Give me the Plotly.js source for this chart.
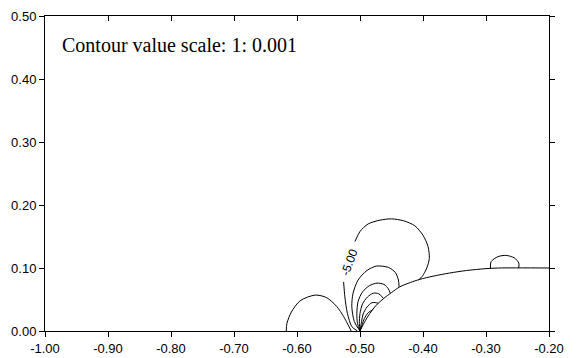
<!DOCTYPE html>
<html>
<head>
<meta charset="utf-8">
<script src="https://cdn.plot.ly/plotly-3.0.1.min.js"></script>
<style>html,body{margin:0;padding:0;background:#fff;}#chart{width:577px;height:358px;}</style>
</head>
<body>
<div id="chart"></div>
<script>
// Tick values
const xTickVals = [-1.0, -0.9, -0.8, -0.7, -0.6, -0.5, -0.4, -0.3, -0.2];
const xTickText = ['-1.00', '-0.90', '-0.80', '-0.70', '-0.60', '-0.50', '-0.40', '-0.30', '-0.20'];
const yTickVals = [0.0, 0.1, 0.2, 0.3, 0.4, 0.5];
const yTickText = ['0.00', '0.10', '0.20', '0.30', '0.40', '0.50'];

// Body surface
const bodyX = [-0.500, -0.495, -0.487, -0.475, -0.462, -0.450, -0.437, -0.420, -0.405, -0.384, -0.358, -0.331, -0.300, -0.280, -0.200];
const bodyY = [0.000, 0.010, 0.024, 0.040, 0.052, 0.061, 0.070, 0.077, 0.082, 0.087, 0.092, 0.096, 0.099, 0.100, 0.100];

// Contour lines
const lobeX = [-0.617, -0.616, -0.609, -0.595, -0.571, -0.553, -0.537, -0.526, -0.518, -0.514];
const lobeY = [0.000, 0.012, 0.030, 0.048, 0.057, 0.053, 0.039, 0.023, 0.008, 0.000];

const m5LowX = [-0.504, -0.513, -0.520, -0.524, -0.526];
const m5LowY = [0.000, 0.007, 0.028, 0.054, 0.078];
const m5UpX = [-0.508, -0.500, -0.487, -0.468, -0.450, -0.431, -0.413, -0.400, -0.392, -0.390, -0.394, -0.401, -0.407];
const m5UpY = [0.142, 0.158, 0.170, 0.176, 0.178, 0.175, 0.167, 0.152, 0.134, 0.115, 0.100, 0.087, 0.081];

const cCX = [-0.500, -0.509, -0.513, -0.511, -0.503, -0.489, -0.474, -0.455, -0.444, -0.439, -0.438];
const cCY = [0.000, 0.015, 0.039, 0.060, 0.081, 0.096, 0.103, 0.101, 0.093, 0.081, 0.070];
const cDX = [-0.500, -0.504, -0.505, -0.503, -0.496, -0.485, -0.473, -0.462, -0.455, -0.452];
const cDY = [0.000, 0.012, 0.028, 0.047, 0.062, 0.072, 0.076, 0.074, 0.067, 0.060];
const cEX = [-0.500, -0.501, -0.500, -0.496, -0.488, -0.479, -0.470, -0.463];
const cEY = [0.000, 0.012, 0.028, 0.043, 0.054, 0.060, 0.059, 0.052];
const cFX = [-0.500, -0.498, -0.495, -0.489, -0.481, -0.475, -0.471];
const cFY = [0.000, 0.012, 0.027, 0.038, 0.045, 0.045, 0.044];
const cGX = [-0.500, -0.497, -0.493, -0.487, -0.481, -0.479];
const cGY = [0.000, 0.009, 0.020, 0.029, 0.033, 0.035];

const bumpX = [-0.293, -0.292, -0.281, -0.268, -0.255, -0.248, -0.248];
const bumpY = [0.100, 0.110, 0.118, 0.120, 0.116, 0.108, 0.100];

const contourLabel = '-5.00';
const labelPos = {x: -0.517, y: 0.110};

function line(x, y, smooth, xa) {
  return {
    x: x, y: y, type: 'scatter', mode: 'lines',
    xaxis: xa || 'x',
    line: {color: '#000', width: 1, shape: smooth ? 'spline' : 'linear', smoothing: 0.8},
    hoverinfo: 'skip', showlegend: false
  };
}

const traces = [
  line(bodyX, bodyY, true),
  line(lobeX, lobeY, true),
  line(m5LowX, m5LowY, true),
  line(m5UpX, m5UpY, true),
  line(cCX, cCY, true),
  line(cDX, cDY, true),
  line(cEX, cEY, true),
  line(cFX, cFY, true),
  line(cGX, cGY, true),
  line(bumpX, bumpY, true, 'x2')
];

const tickFont = {family: 'Liberation Sans, Arial, sans-serif', size: 13, color: '#000'};

const layout = {
  width: 577, height: 358,
  margin: {l: 45, r: 28, t: 16, b: 27},
  paper_bgcolor: '#fff', plot_bgcolor: '#fff',
  showlegend: false,
  xaxis: {
    range: [-1, -0.2], tickvals: xTickVals, ticktext: xTickText,
    ticks: 'outside', ticklen: 5, tickcolor: '#000', tickwidth: 1,
    showline: true, linecolor: '#000', linewidth: 1, mirror: true,
    showgrid: false, zeroline: false, tickfont: tickFont, fixedrange: true
  },
  xaxis2: {
    overlaying: 'x', side: 'top', matches: 'x',
    range: [-1, -0.2], tickvals: xTickVals,
    ticks: 'inside', ticklen: 5, tickcolor: '#000', tickwidth: 1,
    showticklabels: false, showline: false, showgrid: false, zeroline: false
  },
  yaxis: {
    range: [0, 0.5], tickvals: yTickVals, ticktext: yTickText,
    ticks: 'outside', ticklen: 5, tickcolor: '#000', tickwidth: 1,
    showline: true, linecolor: '#000', linewidth: 1, mirror: 'ticks',
    showgrid: false, zeroline: false, tickfont: tickFont, fixedrange: true
  },
  annotations: [
    {
      text: 'Contour value scale: 1: 0.001', xref: 'paper', yref: 'paper',
      x: 0.03, y: 0.909, xanchor: 'left', yanchor: 'middle', showarrow: false,
      font: {family: 'Liberation Serif, Times New Roman, serif', size: 20, color: '#000'}
    },
    {
      text: contourLabel, x: labelPos.x, y: labelPos.y, xref: 'x', yref: 'y',
      textangle: -70, showarrow: false,
      font: {family: 'Liberation Sans, Arial, sans-serif', size: 12, color: '#000'}
    }
  ]
};

Plotly.newPlot('chart', traces, layout, {displayModeBar: false, staticPlot: true});
</script>
</body>
</html>
